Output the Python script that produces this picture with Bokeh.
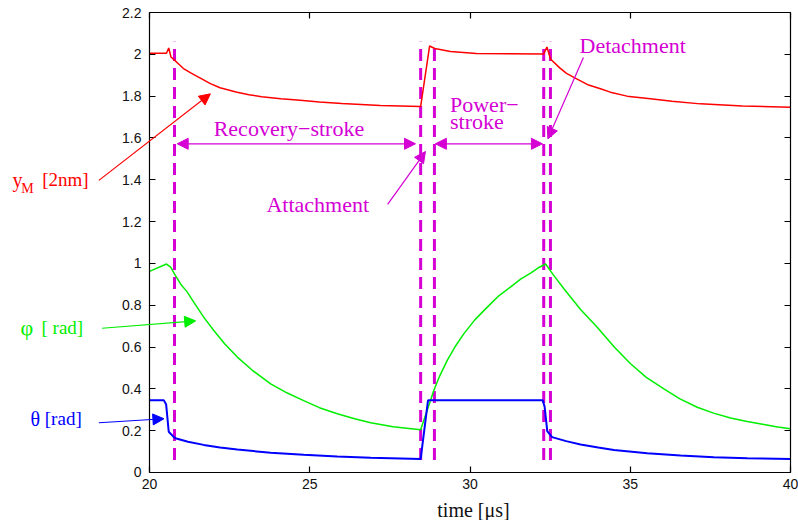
from bokeh.plotting import figure
from bokeh.models import (FixedTicker, LinearAxis, Range1d, Label, Arrow,
                          NormalHead)
from bokeh.embed import file_html
from bokeh.resources import INLINE

# ---------------- data ----------------
t_ym = [20.0, 20.53, 20.6, 20.67, 20.78, 20.9, 21.06, 21.3, 21.6, 21.9,
        22.2, 22.7, 23.1, 23.5, 24.1, 24.7, 25.3, 26.0, 27.2, 28.46,
        28.74, 28.9, 29.39, 30.2, 32.3, 32.4, 32.46, 32.51, 32.8, 33.0,
        33.24, 33.7, 34.07, 34.38, 34.9, 35.63, 36.3, 37.19, 38.5, 40.0]
y_ym = [2.005, 2.005, 2.03, 1.987, 1.972, 1.955, 1.932, 1.91, 1.885, 1.86,
        1.84, 1.82, 1.807, 1.797, 1.787, 1.78, 1.772, 1.765, 1.755, 1.75,
        2.04, 2.028, 2.014, 2.004, 2.002, 2.035, 2.005, 1.978, 1.935, 1.91,
        1.89, 1.853, 1.835, 1.819, 1.80, 1.787, 1.775, 1.763, 1.753, 1.747]

t_phi = [20.0, 20.53, 20.66, 20.81, 21.0, 21.17, 21.4, 21.69, 22.0, 22.35,
         22.74, 23.2, 23.78, 24.3, 24.81, 25.3, 25.86, 26.4, 26.9, 27.6,
         28.46, 28.65, 28.87, 29.05, 29.29, 29.55, 29.81, 30.15, 30.54,
         30.9, 31.26, 31.58, 31.89, 32.12, 32.36, 32.6, 32.93, 33.45,
         33.97, 34.5, 35.01, 35.5, 36.05, 36.55, 37.09, 37.6, 38.13, 38.65,
         39.17, 39.6, 40.0]
phi = [0.962, 0.997, 0.982, 0.942, 0.895, 0.865, 0.81, 0.743, 0.68, 0.615,
       0.552, 0.49, 0.424, 0.38, 0.344, 0.31, 0.281, 0.257, 0.238, 0.219,
       0.204, 0.29, 0.392, 0.46, 0.536, 0.605, 0.664, 0.73, 0.791,
       0.845, 0.887, 0.925, 0.954, 0.978, 0.997, 0.945, 0.879, 0.78,
       0.695, 0.60, 0.520, 0.455, 0.400, 0.352, 0.312, 0.284, 0.261, 0.244,
       0.230, 0.218, 0.209]

t_theta = [20.0, 20.45, 20.52, 20.6, 20.76, 20.81, 21.2, 21.69, 22.2, 22.74,
           23.78, 24.81, 25.86, 26.9, 28.46, 28.69, 32.27, 32.33, 32.41,
           32.56, 33.0, 33.45, 34.0, 34.49, 35.53, 36.57, 37.61, 38.65, 40.0]
theta = [0.345, 0.345, 0.325, 0.195, 0.169, 0.164, 0.147, 0.132, 0.12, 0.110,
         0.094, 0.085, 0.077, 0.070, 0.064, 0.345, 0.345, 0.313, 0.198,
         0.169, 0.15, 0.134, 0.12, 0.108, 0.092, 0.081, 0.073, 0.068, 0.064]

event_t = [20.78, 28.46, 28.89, 32.30, 32.51]
event_lo = [0.06, 0.06, 0.06, 0.06, 0.06]
event_hi = [2.06, 2.06, 2.06, 2.06, 2.06]

x_ticks = [20, 25, 30, 35, 40]
y_ticks = [0, 0.2, 0.4, 0.6, 0.8, 1.0, 1.2, 1.4, 1.6, 1.8, 2.0, 2.2]
y_tick_labels = ["0", "0.2", "0.4", "0.6", "0.8", "1", "1.2", "1.4",
                 "1.6", "1.8", "2", "2.2"]
x_title = "time [μs]"

MAG = "#D400D4"
RED = "#FF0000"
GREEN = "#00EE00"
BLUE = "#0000FF"
SERIF = "Liberation Serif"

# the frame spans the whole canvas so that the curve labels on the left and
# the axis title show; the four axes are pinned to the data box 20..40 x 0..2.2
p = figure(width=798, height=520, output_backend="svg", toolbar_location=None,
           x_range=Range1d(15.351, 40.2496), y_range=Range1d(-0.2296, 2.2574),
           min_border_left=0, min_border_right=0, min_border_top=0,
           min_border_bottom=0)
p.grid.visible = False
p.outline_line_color = None


def style_axis(ax, labels=True):
    ax.major_tick_in = 6
    ax.major_tick_out = 0
    ax.minor_tick_line_color = None
    ax.axis_line_color = "black"
    ax.axis_line_width = 1.2
    ax.major_tick_line_width = 1.2
    if labels:
        ax.major_label_text_font = "Liberation Sans"
        ax.major_label_text_font_size = "14px"
        ax.major_label_text_color = "#111111"
        ax.major_label_standoff = 8
    else:
        ax.major_label_text_color = None
        ax.major_label_standoff = 0


xa = p.xaxis[0]
ya = p.yaxis[0]
xa.ticker = FixedTicker(ticks=x_ticks)
xa.bounds = (20, 40)
xa.fixed_location = 0
ya.ticker = FixedTicker(ticks=y_ticks)
ya.bounds = (0, 2.2)
ya.fixed_location = 20
ya.major_label_overrides = {v: s for v, s in zip(y_ticks, y_tick_labels)}
style_axis(xa)
style_axis(ya)
xa.major_label_standoff = 7

top = LinearAxis(ticker=FixedTicker(ticks=x_ticks), bounds=(20, 40),
                 fixed_location=2.2)
right = LinearAxis(ticker=FixedTicker(ticks=y_ticks), bounds=(0, 2.2),
                   fixed_location=40)
style_axis(top, labels=False)
style_axis(right, labels=False)
p.add_layout(top, "above")
p.add_layout(right, "right")

# dashed event lines
p.segment(x0=event_t, y0=event_lo, x1=event_t, y1=event_hi,
          line_color=MAG, line_width=3, line_dash="12 7")

# curves
p.line(t_ym, y_ym, line_color=RED, line_width=1.5)
p.line(t_phi, phi, line_color=GREEN, line_width=1.5)
p.line(t_theta, theta, line_color=BLUE, line_width=2)


def arrow(x0, y0, x1, y1, color, both=False, size=11, width=1.2):
    head = NormalHead(size=size, fill_color=color, line_color=color)
    start = NormalHead(size=size, fill_color=color, line_color=color) if both else None
    p.add_layout(Arrow(end=head, start=start, x_start=x0, y_start=y0,
                       x_end=x1, y_end=y1, line_color=color, line_width=width))


def label(x, y, text, color, size="22px", align="left"):
    p.add_layout(Label(x=x, y=y, text=text, text_color=color,
                       text_font=SERIF, text_font_size=size,
                       text_align=align, text_baseline="middle"))


# x axis title
label(30.109, -0.178, x_title, "#111111", size="20px", align="center")

# phase arrows
arrow(20.864, 1.572, 28.30, 1.572, MAG, both=True)
arrow(28.92, 1.572, 32.26, 1.572, MAG, both=True)
arrow(27.43, 1.282, 28.61, 1.535, MAG)
arrow(33.54, 1.985, 32.43, 1.596, MAG)

label(24.35, 1.644, "Recovery−stroke", MAG, align="center")
label(29.376, 1.759, "Power−", MAG)
label(29.376, 1.68, "stroke", MAG)
label(33.417, 2.042, "Detachment", MAG)
label(23.65, 1.283, "Attachment", MAG)

# curve labels
arrow(18.42, 1.397, 21.9, 1.811, RED)
label(15.725, 1.401, "y", RED, size="20px")
label(15.997, 1.358, "M", RED, size="14px")
label(16.652, 1.401, "[2nm]", RED, size="19px")

arrow(18.52, 0.690, 21.44, 0.725, GREEN)
label(15.975, 0.693, "φ", GREEN, size="22px")
label(16.63, 0.693, "[ rad]", GREEN, size="19px")

arrow(18.42, 0.238, 20.45, 0.257, BLUE)
label(16.287, 0.256, "θ", BLUE, size="20px")
label(16.733, 0.256, "[rad]", BLUE, size="19px")

open("out.html", "w").write(file_html(p, INLINE))
